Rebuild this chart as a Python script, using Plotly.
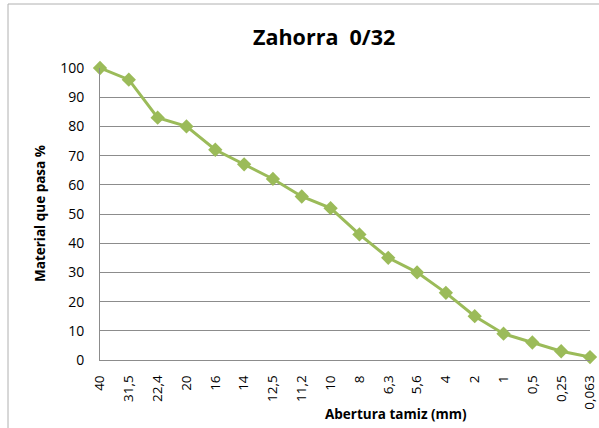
import plotly.graph_objects as go

sieves = ["40", "31,5", "22,4", "20", "16", "14", "12,5", "11,2", "10", "8",
          "6,3", "5,6", "4", "2", "1", "0,5", "0,25", "0,063"]
passing = [100, 96, 83, 80, 72, 67, 62, 56, 52, 43, 35, 30, 23, 15, 9, 6, 3, 1]
title_text = "Zahorra  0/32"
y_title = "Material que pasa %"
x_title = "Abertura tamiz (mm)"

W, H = 599, 428
L, R, T, B = 100, 9, 68, 68
pw = W - L - R
ph = H - T - B

def px(x):
    return (x - L) / pw

def py(y):
    return (H - B - y) / ph

green = "#9BBB59"
grid = "#8c8c8c"
font = "'Open Sans', sans-serif"

fig = go.Figure()
fig.add_trace(go.Scatter(
    x=sieves, y=passing, mode="lines+markers",
    line=dict(color=green, width=3),
    marker=dict(symbol="diamond", size=11, color=green),
    cliponaxis=False, showlegend=False,
))

fig.update_layout(
    width=W, height=H,
    margin=dict(l=L, r=R, t=T, b=B, autoexpand=False),
    paper_bgcolor="white", plot_bgcolor="white",
    font=dict(family=font, color="#000000", size=12),
    xaxis=dict(
        type="category", range=[0, len(sieves) - 1], automargin=False,
        tickangle=-90, tickfont=dict(size=13.5),
        showgrid=False, showline=True, linecolor=grid, linewidth=1,
        ticks="", ticklabelstandoff=9, zeroline=False,
    ),
    yaxis=dict(
        range=[0, 100], dtick=10, tickfont=dict(size=14), automargin=False,
        showgrid=True, gridcolor=grid, gridwidth=1,
        showline=True, linecolor=grid, linewidth=1,
        ticks="", ticklabelstandoff=12, zeroline=False,
    ),
    shapes=[dict(
        type="rect", xref="paper", yref="paper",
        x0=px(8), x1=px(640), y0=py(470), y1=py(4),
        line=dict(color="#b0b0b0", width=1), fillcolor="rgba(0,0,0,0)", layer="below",
    )],
    annotations=[
        dict(text="<b>" + title_text + "</b>", xref="paper", yref="paper",
             x=px(324), y=py(36), showarrow=False, font=dict(size=21.5, family=font),
             xanchor="center", yanchor="middle"),
        dict(text="<b>" + y_title + "</b>", xref="paper", yref="paper",
             x=px(40), y=py(214), showarrow=False, textangle=-90,
             font=dict(size=13.5, family=font), xanchor="center", yanchor="middle"),
        dict(text="<b>" + x_title + "</b>", xref="paper", yref="paper",
             x=px(396), y=py(414), showarrow=False,
             font=dict(size=13.5, family=font), xanchor="center", yanchor="middle"),
    ],
)

fig.write_html("out.html", config={"displayModeBar": False},
               post_script="document.body.style.margin='0';")
